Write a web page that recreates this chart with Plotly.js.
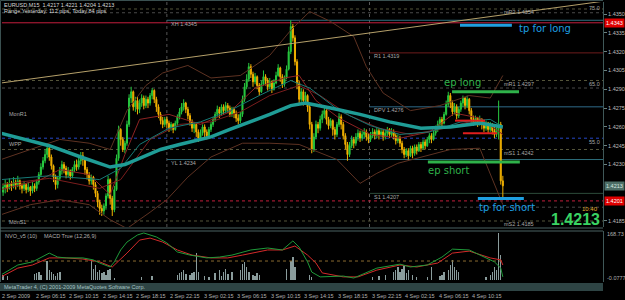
<!DOCTYPE html>
<html><head><meta charset="utf-8">
<script src="https://cdn.plot.ly/plotly-3.0.1.min.js"></script>
<style>html,body{margin:0;padding:0;background:#000;}#chart{width:625px;height:300px;}</style>
</head><body><div id="chart"></div>
<script>
// ---------- DATA ----------
const symbolTitle = "EURUSD,M15  1.4217 1.4221 1.4204 1.4213";
const rangeText = "Range Yesterday: 112 pips, Today 84 pips";
const firstOpen = 1.4203;
const closes = [
1.4208,1.4212,1.4214,1.4211,1.4215,1.4213,1.4216,1.4214,1.4217,1.4213,
1.4211,1.4214,1.4210,1.4212,1.4209,1.4213,1.4211,1.4216,1.4222,1.4228,
1.4233,1.4238,1.4243,1.4236,1.4229,1.4220,1.4214,1.4219,1.4225,1.4230,
1.4227,1.4222,1.4225,1.4221,1.4226,1.4230,1.4228,1.4233,1.4237,1.4234,
1.4226,1.4222,1.4217,1.4220,1.4214,1.4207,1.4200,1.4195,1.4193,1.4197,
1.4205,1.4218,1.4203,1.4194,1.4210,1.4235,1.4258,1.4250,1.4242,1.4247,
1.4262,1.4283,1.4288,1.4276,1.4281,1.4274,1.4279,1.4283,1.4277,1.4282,
1.4279,1.4285,1.4289,1.4282,1.4276,1.4270,1.4265,1.4262,1.4266,1.4263,
1.4259,1.4262,1.4258,1.4263,1.4268,1.4272,1.4276,1.4279,1.4274,1.4269,
1.4264,1.4259,1.4262,1.4256,1.4251,1.4255,1.4260,1.4256,1.4253,1.4258,
1.4262,1.4266,1.4270,1.4274,1.4271,1.4276,1.4273,1.4277,1.4275,1.4270,
1.4274,1.4271,1.4267,1.4265,1.4270,1.4282,1.4292,1.4298,1.4308,1.4302,
1.4296,1.4300,1.4293,1.4288,1.4294,1.4300,1.4297,1.4292,1.4296,1.4290,
1.4295,1.4301,1.4307,1.4300,1.4294,1.4299,1.4306,1.4320,1.4340,1.4331,
1.4312,1.4295,1.4282,1.4288,1.4281,1.4285,1.4276,1.4262,1.4242,1.4252,
1.4262,1.4259,1.4266,1.4270,1.4273,1.4266,1.4261,1.4265,1.4258,1.4254,
1.4262,1.4268,1.4262,1.4253,1.4246,1.4238,1.4245,1.4250,1.4247,1.4252,
1.4255,1.4251,1.4254,1.4256,1.4252,1.4250,1.4253,1.4256,1.4253,1.4257,
1.4254,1.4256,1.4252,1.4255,1.4258,1.4254,1.4256,1.4253,1.4249,1.4251,
1.4247,1.4242,1.4238,1.4241,1.4237,1.4243,1.4239,1.4244,1.4241,1.4246,
1.4243,1.4248,1.4245,1.4250,1.4253,1.4250,1.4255,1.4259,1.4262,1.4266,
1.4263,1.4270,1.4278,1.4285,1.4279,1.4272,1.4276,1.4269,1.4274,1.4279,
1.4283,1.4277,1.4282,1.4273,1.4266,1.4264,1.4267,1.4263,1.4266,1.4262,
1.4259,1.4263,1.4258,1.4261,1.4257,1.4254,1.4259,1.4262,1.4217,1.4213];
const highs = [
1.4214,1.4215,1.4218,1.4216,1.4219,1.4217,1.4220,1.4218,1.4221,1.4218,
1.4215,1.4217,1.4215,1.4216,1.4213,1.4216,1.4215,1.4218,1.4224,1.4231,
1.4236,1.4242,1.4246,1.4245,1.4238,1.4230,1.4222,1.4221,1.4228,1.4233,
1.4232,1.4229,1.4228,1.4226,1.4228,1.4233,1.4234,1.4236,1.4240,1.4240,
1.4235,1.4228,1.4224,1.4222,1.4221,1.4216,1.4209,1.4202,1.4198,1.4199,
1.4207,1.4221,1.4219,1.4205,1.4213,1.4238,1.4261,1.4259,1.4252,1.4249,
1.4265,1.4286,1.4292,1.4289,1.4284,1.4284,1.4282,1.4286,1.4285,1.4285,
1.4284,1.4287,1.4291,1.4290,1.4284,1.4278,1.4272,1.4268,1.4268,1.4268,
1.4265,1.4264,1.4263,1.4265,1.4270,1.4275,1.4279,1.4282,1.4280,1.4276,
1.4271,1.4266,1.4264,1.4263,1.4258,1.4258,1.4262,1.4262,1.4258,1.4260,
1.4264,1.4268,1.4272,1.4277,1.4276,1.4278,1.4278,1.4280,1.4279,1.4277,
1.4276,1.4276,1.4273,1.4270,1.4272,1.4285,1.4295,1.4302,1.4311,1.4310,
1.4304,1.4303,1.4301,1.4295,1.4297,1.4305,1.4302,1.4299,1.4299,1.4297,
1.4298,1.4304,1.4310,1.4308,1.4302,1.4301,1.4309,1.4324,1.4345,1.4342,
1.4333,1.4314,1.4297,1.4291,1.4290,1.4288,1.4286,1.4278,1.4264,1.4255,
1.4265,1.4264,1.4269,1.4273,1.4277,1.4274,1.4268,1.4267,1.4266,1.4260,
1.4264,1.4271,1.4270,1.4264,1.4255,1.4248,1.4248,1.4253,1.4252,1.4255,
1.4258,1.4257,1.4257,1.4259,1.4258,1.4255,1.4256,1.4259,1.4258,1.4260,
1.4259,1.4259,1.4258,1.4258,1.4260,1.4259,1.4259,1.4258,1.4255,1.4254,
1.4253,1.4249,1.4244,1.4243,1.4243,1.4245,1.4245,1.4246,1.4246,1.4248,
1.4248,1.4250,1.4250,1.4252,1.4255,1.4255,1.4257,1.4261,1.4265,1.4268,
1.4268,1.4272,1.4281,1.4288,1.4287,1.4281,1.4279,1.4278,1.4276,1.4281,
1.4285,1.4284,1.4285,1.4283,1.4275,1.4269,1.4269,1.4268,1.4269,1.4267,
1.4265,1.4265,1.4264,1.4264,1.4263,1.4260,1.4262,1.4281,1.4264,1.4221];
const lows = [
1.4194,1.4205,1.4207,1.4208,1.4210,1.4209,1.4211,1.4210,1.4212,1.4210,
1.4207,1.4209,1.4207,1.4208,1.4205,1.4207,1.4208,1.4209,1.4214,1.4220,
1.4226,1.4231,1.4235,1.4233,1.4226,1.4216,1.4210,1.4211,1.4217,1.4222,
1.4223,1.4219,1.4220,1.4218,1.4219,1.4224,1.4225,1.4226,1.4230,1.4229,
1.4222,1.4218,1.4214,1.4214,1.4210,1.4204,1.4196,1.4190,1.4189,1.4190,
1.4194,1.4203,1.4198,1.4189,1.4192,1.4209,1.4233,1.4245,1.4240,1.4239,
1.4245,1.4260,1.4279,1.4273,1.4272,1.4270,1.4271,1.4276,1.4274,1.4275,
1.4275,1.4277,1.4282,1.4279,1.4272,1.4267,1.4262,1.4259,1.4260,1.4259,
1.4256,1.4257,1.4255,1.4257,1.4261,1.4266,1.4270,1.4273,1.4271,1.4266,
1.4261,1.4256,1.4255,1.4252,1.4248,1.4249,1.4253,1.4252,1.4250,1.4251,
1.4256,1.4260,1.4264,1.4268,1.4267,1.4269,1.4270,1.4271,1.4271,1.4268,
1.4268,1.4267,1.4264,1.4262,1.4263,1.4268,1.4280,1.4290,1.4296,1.4299,
1.4292,1.4294,1.4290,1.4285,1.4287,1.4293,1.4293,1.4289,1.4290,1.4287,
1.4289,1.4294,1.4300,1.4296,1.4291,1.4292,1.4298,1.4305,1.4318,1.4328,
1.4309,1.4290,1.4278,1.4280,1.4277,1.4278,1.4272,1.4258,1.4239,1.4240,
1.4250,1.4255,1.4257,1.4263,1.4267,1.4262,1.4258,1.4259,1.4253,1.4250,
1.4252,1.4260,1.4258,1.4250,1.4242,1.4233,1.4236,1.4243,1.4243,1.4245,
1.4249,1.4248,1.4249,1.4251,1.4249,1.4247,1.4248,1.4251,1.4250,1.4251,
1.4250,1.4252,1.4249,1.4250,1.4252,1.4251,1.4252,1.4250,1.4246,1.4247,
1.4244,1.4239,1.4235,1.4236,1.4234,1.4236,1.4235,1.4237,1.4238,1.4240,
1.4240,1.4242,1.4242,1.4244,1.4247,1.4247,1.4249,1.4253,1.4256,1.4260,
1.4260,1.4262,1.4269,1.4276,1.4275,1.4269,1.4270,1.4266,1.4267,1.4272,
1.4276,1.4274,1.4275,1.4270,1.4263,1.4261,1.4262,1.4260,1.4261,1.4258,
1.4256,1.4257,1.4255,1.4256,1.4254,1.4251,1.4252,1.4250,1.4214,1.4204];

// moving averages / bands (bar index, price)
const maSlowX = [0,23,38,52,59,66,76,85,100,109,119,128,138,145,157,171,185,200,214,228,239];
const maSlowY = [1.4255,1.4245,1.4236,1.4228,1.4230,1.4235,1.4242,1.4246,1.4252,1.4258,1.4264,1.4270,1.4277,1.4279,1.4275,1.4270,1.4264,1.4259,1.4260,1.4263,1.4260];
const maMidX = [0,23,47,57,66,80,95,109,123,138,147,161,176,190,204,219,233,239];
const maMidY = [1.4218,1.4221,1.4218,1.4227,1.4246,1.4259,1.4264,1.4273,1.4285,1.4297,1.4291,1.4273,1.4261,1.4254,1.4256,1.4264,1.4266,1.4260];
const emaFastX = [0,19,28,42,52,59,66,80,95,109,121,135,142,150,161,176,190,204,216,228,239];
const emaFastY = [1.4210,1.4218,1.4226,1.4222,1.4206,1.4238,1.4266,1.4270,1.4262,1.4272,1.4291,1.4299,1.4301,1.4281,1.4267,1.4254,1.4251,1.4256,1.4271,1.4267,1.4254];
const emaSlowX = [0,23,47,57,71,85,100,114,128,142,152,166,180,195,209,223,239];
const emaSlowY = [1.4214,1.4219,1.4211,1.4218,1.4250,1.4262,1.4264,1.4272,1.4285,1.4293,1.4285,1.4269,1.4259,1.4254,1.4258,1.4264,1.4259];
const bandUpX = [0,14,28,42,52,60,69,77,89,100,114,128,138,147,157,168,174,182,195,209,223,233,239];
const bandUpY = [1.4234,1.4242,1.4250,1.4247,1.4242,1.4273,1.4293,1.4303,1.4309,1.4299,1.4301,1.4317,1.4337,1.4352,1.4344,1.4332,1.4308,1.4287,1.4273,1.4277,1.4285,1.4283,1.4301];
const bandLoX = [0,14,28,42,52,60,71,79,89,100,115,128,142,160,171,179,189,200,214,228,239];
const bandLoY = [1.4190,1.4198,1.4202,1.4198,1.4186,1.4179,1.4192,1.4202,1.4220,1.4236,1.4247,1.4247,1.4246,1.4234,1.4215,1.4223,1.4231,1.4236,1.4242,1.4243,1.4198];
const trendX = [0,286];
const trendY = [1.4295,1.4360];

// indicator window
const histX = [1,3,16,17,18,19,22,23,24,25,26,27,28,43,44,45,46,47,48,49,50,51,52,54,67,72,84,85,86,87,88,90,91,92,93,94,97,99,102,104,105,106,107,108,110,114,115,116,117,118,120,121,122,123,136,138,139,140,147,148,177,180,183,187,188,189,190,191,192,193,194,196,198,203,205,209,210,211,213,214,215,216,217,218,231,233,234,235,236,237,238];
const histV = [18,14,20,24,28,18,67,35,28,20,14,24,30,67,40,53,30,35,24,28,18,37,40,8,10,14,18,24,30,35,20,18,24,30,95,28,14,10,24,35,14,28,40,20,30,35,56,64,45,30,18,14,24,18,38,67,80,45,18,12,10,14,18,28,35,46,30,40,53,24,35,18,10,10,46,14,18,28,35,53,70,45,35,28,10,18,28,45,35,166,88];
const macdX = [0,8,15,23,27,31,39,44,47,52,54,57,60,65,68,74,79,84,90,98,104,110,119,127,134,139,142,146,148,152,163,168,179,190,195,203,210,215,223,230,235,238,239];
const macdV = [18,53,64,95,81,78,78,71,60,46,64,106,134,159,166,152,131,99,88,78,81,88,106,113,106,138,116,64,28,11,14,7,42,56,46,53,81,109,106,81,64,42,11];
const sigX = [0,8,15,23,31,39,47,53,60,66,71,77,84,91,100,108,115,127,134,140,146,150,153,163,170,179,190,198,208,215,223,233,238,239];
const sigV = [11,42,53,78,78,74,64,46,95,141,148,134,106,88,78,78,88,106,106,120,88,60,25,11,11,35,53,46,60,95,102,78,71,53];
const indLevel = 67;
const indTop = "168.73", indBottom = "-0.0777";

// axis labels
const priceTicks = [1.4350,1.4335,1.4320,1.4305,1.4290,1.4275,1.4260,1.4245,1.4230,1.4185];
const timeTickBars = [0,16,32,48,64,80,96,112,128,144,160,176,192,208,224];
const timeTickText = ["2 Sep 2009","2 Sep 06:15","2 Sep 10:15","2 Sep 14:15","2 Sep 18:15","2 Sep 22:15","3 Sep 02:15","3 Sep 06:15","3 Sep 10:15","3 Sep 14:15","3 Sep 18:15","3 Sep 22:15","4 Sep 02:15","4 Sep 06:15","4 Sep 10:15"];
const daySeparators = [79,175.5];

// pivot levels
const fromDayLevels = [ // [name, price, start bar]
  ["XH 1.4345",1.4345,79],["R1 1.4319",1.4319,175.5],["DPV 1.4276",1.4276,175.5],
  ["YL 1.4234",1.4234,79],["S1 1.4207",1.4207,175.5]];
const mLevelNames = ["mR2 1.4354","mR1 1.4297","mS1 1.4242","mS2 1.4185"];
const mLevelPrices = [1.4354,1.4297,1.4242,1.4185];
const gridPrices = [1.4351,1.4291,1.4196];
const wppPrice = 1.4251, alertHigh = 1.4343, alertLow = 1.4201, lastPrice = 1.4213;
const sideLabels = [["MonR1",1.4273],["WPP",1.4249],["MonS1",1.4187]];
const rightLevelTags = [["75.0",1.4355],["65.0",1.4294],["55.0",1.4248]];

// trade marks
const markNames = ["tp for long","ep long","red1","red2","ep short","tp for short"];
const markX0 = [218.6,214.8,216.2,220.0,203.3,227.1];
const markX1 = [243.3,246.7,230.5,236.2,247.1,249.0];
const markY  = [1.4341,1.4288,1.4265,1.4255,1.4232,1.4203];
const clockText = "10:40";

// ---------- BUILD ----------
const W=625,H=300;
const px=v=>v/W, py=v=>1-v/H;
const bars = closes.map((_,i)=>i);
const opens = closes.map((c,i)=> i===0 ? firstOpen : closes[i-1]);
const XR=[0.48,286.7];
const FONT='Liberation Sans, Arial, sans-serif';
const barPx=b=>1+2.1*b;

const traces=[];
const line=(x,y,color,width,xa,ya,dash)=>({type:'scatter',mode:'lines',x,y,xaxis:xa||'x',yaxis:ya||'y',
  line:{color,width,dash:dash||'solid'},hoverinfo:'skip',showlegend:false});
traces.push(line(bandUpX,bandUpY,'#5e3222',1));
traces.push(line(bandLoX,bandLoY,'#5e3222',1));
traces.push(line(emaSlowX,emaSlowY,'#7a1d1d',1));
traces.push(line(emaFastX,emaFastY,'#8e2323',1));
traces.push(line(maMidX,maMidY,'#177a76',1));
traces.push(line(maSlowX,maSlowY,'#1f9c96',3.5));
traces.push(line(trendX,trendY,'#b5a06a',1));
traces.push({type:'candlestick',x:bars,open:opens,high:highs,low:lows,close:closes,xaxis:'x',yaxis:'y',
  increasing:{line:{color:'#27c93f',width:1},fillcolor:'#27c93f'},
  decreasing:{line:{color:'#f2b100',width:1},fillcolor:'#f2b100'},
  whiskerwidth:0,hoverinfo:'skip',showlegend:false});
// indicator
traces.push({type:'bar',x:histX,y:histV,xaxis:'x2',yaxis:'y2',width:0.7,marker:{color:'#8a9c9c',line:{width:0}},hoverinfo:'skip',showlegend:false});
traces.push(line([0,239],[indLevel,indLevel],'#8a6a30',1,'x2','y2','dot'));
traces.push(line(sigX,sigV,'#d42a2a',1,'x2','y2'));
traces.push(line(macdX,macdV,'#1f9a3a',1,'x2','y2'));

const shapes=[];
const hline=(y,x0,x1,color,width,dash,xref,layer)=>shapes.push({type:'line',xref:xref||'x',yref:'y',x0,x1,y0:y,y1:y,
  line:{color,width,dash:dash||'solid'},layer:layer||'below'});
gridPrices.forEach(p=>hline(p,XR[0],XR[1],'#4a4a4a',1,'dot'));
mLevelPrices.forEach(p=>hline(p,XR[0],XR[1],'#55553a',1,'dot'));
hline(wppPrice,XR[0],XR[1],'#2648c8',1,'dot');
hline(alertHigh,XR[0],XR[1],'#c21e3c',1);
hline(alertLow,XR[0],XR[1],'#c21e3c',1,'dot');
const lvlColors={"XH":'#2f6f80',"R1":'#6e1c1c',"DPV":'#2f6a8a',"YL":'#2c6c7a',"S1":'#2c4a3a'};
fromDayLevels.forEach(([n,p,b])=>hline(p,b,XR[1],lvlColors[n.split(' ')[0]],1));
daySeparators.forEach(b=>shapes.push({type:'line',xref:'x',yref:'paper',x0:b,x1:b,y0:py(227),y1:py(2),line:{color:'#555',width:1,dash:'dot'},layer:'below'}));
const markColors=['#1e9fe0','#2fb24a','#e01e1e','#e01e1e','#2fb24a','#1e9fe0'];
const markWidths=[3,3,2,2,3,3];
markNames.forEach((n,i)=>hline(markY[i],markX0[i],markX1[i],markColors[i],markWidths[i],'solid','x','above'));
const pl=(x0,y0,x1,y1,c,w)=>shapes.push({type:'line',xref:'paper',yref:'paper',x0:px(x0),y0:py(y0),x1:px(x1),y1:py(y1),line:{color:c,width:w||1}});
pl(0.5,0.5,603,0.5,'#3a5050');
pl(0.5,0.5,0.5,282,'#3a5050');
pl(0,228,603,228,'#4a6262');
pl(0,231,603,231,'#4a6262');
shapes.push({type:'rect',xref:'paper',yref:'paper',x0:0,x1:px(603),y0:py(291),y1:py(283),fillcolor:'#2e4444',line:{width:0}});

const anns=[];
const A=(text,x,y,o)=>anns.push(Object.assign({text,x:px(x),y:py(y),xref:'paper',yref:'paper',showarrow:false,
  xanchor:'left',yanchor:'middle',font:{family:FONT,size:5.5,color:'#a8a8a8'},borderpad:0},o||{}));
A(symbolTitle,3,5,{font:{family:FONT,size:5.5,color:'#d8d8d8'}});
A(rangeText,3,11,{font:{family:FONT,size:5.5,color:'#d8d8d8'}});
const yOf=p=>14+(1.4350-p)*12545;
fromDayLevels.forEach(([n,p,b])=>A(n,barPx(b)+3,yOf(p)+3.5));
mLevelNames.forEach((n,i)=>A(n,503,yOf(mLevelPrices[i])+3.5));
sideLabels.forEach(([n,p])=>A(n,8,yOf(p)+3.5));
rightLevelTags.forEach(([n,p])=>A(n,601,yOf(p),{xanchor:'right'}));
A(markNames[0],518,28,{font:{family:'DejaVu Sans',size:10,color:'#1e9fe0'}});
A(markNames[1],443,83,{font:{family:'DejaVu Sans',size:10,color:'#2fb24a'}});
A(markNames[4],427,171,{font:{family:'DejaVu Sans',size:10,color:'#2fb24a'}});
A(markNames[5],478,207.5,{font:{family:'DejaVu Sans',size:10,color:'#1e9fe0'}});
A('<b>'+lastPrice.toFixed(4)+'</b>',601,219.5,{xanchor:'right',font:{family:FONT,size:16,color:'#3ad463'}});
A(clockText,599,209,{xanchor:'right',font:{family:FONT,size:6,color:'#e0b030'}});
const tag=(p,bg,fg)=>A(p.toFixed(4),604,yOf(p),{bgcolor:bg,font:{family:FONT,size:5.5,color:fg},borderpad:1});
tag(alertHigh,'#e00000','#ffffff');
tag(lastPrice,'#4d6e66','#d8e8e0');
tag(alertLow,'#e00000','#ffffff');
A("NVO_v5 (10)",4,236,{font:{family:FONT,size:5.5,color:'#b0b0b0'}});
A("MACD True (12,26,9)",43,236,{font:{family:FONT,size:5.5,color:'#b0b0b0'}});
A(indTop,606,234,{font:{family:FONT,size:5.5,color:'#b0b0b0'}});
A(indBottom,606,278,{font:{family:FONT,size:5.5,color:'#b0b0b0'}});
A("MetaTrader 4, (C) 2001-2009 MetaQuotes Software Corp.",3,287,{font:{family:FONT,size:5.5,color:'#a6c4c4'}});
timeTickBars.forEach((b,i)=>A(timeTickText[i],Math.max(1,barPx(b)),295.5,{font:{family:FONT,size:5.5,color:'#b0b0b0'}}));

const layout={width:W,height:H,margin:{l:0,r:0,t:0,b:0},paper_bgcolor:'#000',plot_bgcolor:'#000',
  showlegend:false,font:{family:FONT},
  xaxis:{domain:[px(2),px(603)],range:XR,visible:false,rangeslider:{visible:false},fixedrange:true},
  yaxis:{domain:[py(227),py(2)],range:[1.418021,1.435957],side:'right',tickvals:priceTicks,
    ticktext:priceTicks.map(v=>v.toFixed(4)),tickfont:{family:FONT,size:5.5,color:'#bdbdbd'},
    ticks:'outside',ticklen:3,tickcolor:'#6a8080',showgrid:false,zeroline:false,showline:true,
    linecolor:'#3f5858',linewidth:1,fixedrange:true,automargin:false},
  xaxis2:{domain:[px(2),px(603)],range:XR,anchor:'y2',visible:false,fixedrange:true},
  yaxis2:{domain:[py(282),py(231)],range:[-7,173],anchor:'x2',side:'right',showticklabels:false,
    showgrid:false,zeroline:false,showline:true,linecolor:'#3f5858',ticks:'',fixedrange:true},
  bargap:0,shapes,annotations:anns};
Plotly.newPlot('chart',traces,layout,{staticPlot:true,displayModeBar:false});
</script></body></html>
